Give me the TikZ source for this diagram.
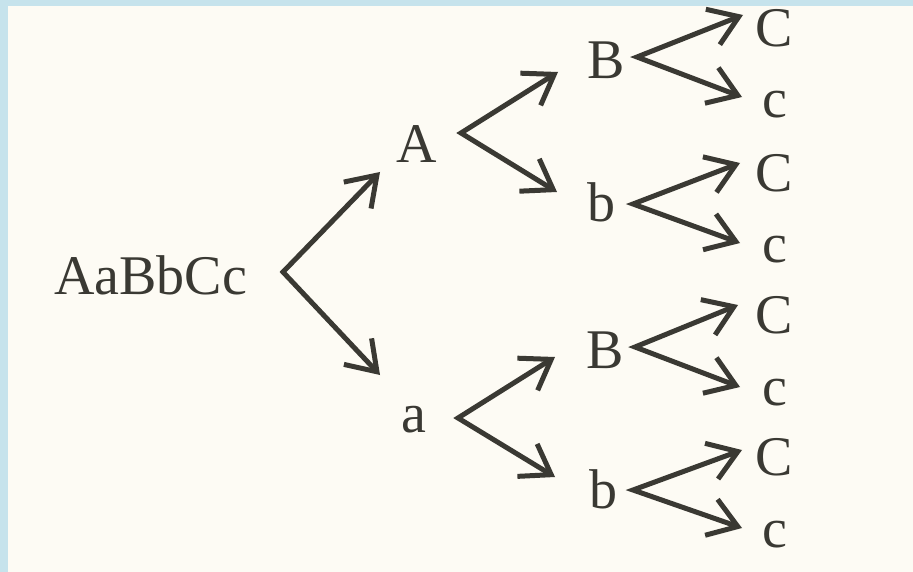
\documentclass[tikz,border=0pt]{standalone}
\usepackage{fontspec}
\setmainfont{Liberation Serif}
\usetikzlibrary{arrows.meta}
\definecolor{paper}{HTML}{FDFBF4}
\definecolor{frame}{HTML}{C6E3EC}
\definecolor{ink}{HTML}{3A3933}
\begin{document}
\begin{tikzpicture}[x=1pt,y=-1pt,
  lbl/.style={anchor=base west, inner sep=0pt, outer sep=0pt, text=ink,
              font=\fontsize{56}{60}\selectfont},
  barb/.tip={Straight Barb[length=28pt,width=38pt]},
  fork/.style={draw=ink, line width=5pt, line join=miter, barb-barb}]
\useasboundingbox (0,0) rectangle (913,572);
\fill[paper] (0,0) rectangle (913,572);
\fill[frame] (0,0) rectangle (8,572);
\fill[frame] (0,0) rectangle (913,6);
% labels
\node[lbl] (root) at (54,294) {AaBbCc};
\node[lbl] (A) at (396,163) {A};
\node[lbl] (a) at (401,432) {a};
\node[lbl] (B1) at (587,79) {B};
\node[lbl] (b1) at (587,222) {b};
\node[lbl] (B2) at (586,368) {B};
\node[lbl] (b2) at (589,508) {b};
\node[lbl] (C1) at (755,47) {C};
\node[lbl] (c1) at (762,118) {c};
\node[lbl] (C2) at (755,192) {C};
\node[lbl] (c2) at (762,262) {c};
\node[lbl] (C3) at (755,333) {C};
\node[lbl] (c3) at (762,405) {c};
\node[lbl] (C4) at (755,475) {C};
\node[lbl] (c4) at (762,547) {c};
% fork vertices and arrow tips
\coordinate (v0) at (283,272);
\coordinate (t0u) at (380,172);
\coordinate (t0d) at (380,375);
\coordinate (vA) at (461,133);
\coordinate (tAu) at (558,72);
\coordinate (tAd) at (557,192);
\coordinate (va) at (458,418);
\coordinate (tau) at (555,357);
\coordinate (tad) at (555,477);
\coordinate (vB1) at (637,57);
\coordinate (tB1u) at (743,15);
\coordinate (tB1d) at (742,97);
\coordinate (vb1) at (633,204);
\coordinate (tb1u) at (740,163);
\coordinate (tb1d) at (740,243);
\coordinate (vB2) at (635,347);
\coordinate (tB2u) at (738,305);
\coordinate (tB2d) at (740,387);
\coordinate (vb2) at (633,490);
\coordinate (tb2u) at (742,450);
\coordinate (tb2d) at (742,528);
% forks
\draw[fork] (t0u) -- (v0) -- (t0d);
\draw[fork] (tAu) -- (vA) -- (tAd);
\draw[fork] (tau) -- (va) -- (tad);
\draw[fork] (tB1u) -- (vB1) -- (tB1d);
\draw[fork] (tb1u) -- (vb1) -- (tb1d);
\draw[fork] (tB2u) -- (vB2) -- (tB2d);
\draw[fork] (tb2u) -- (vb2) -- (tb2d);
\end{tikzpicture}
\end{document}
